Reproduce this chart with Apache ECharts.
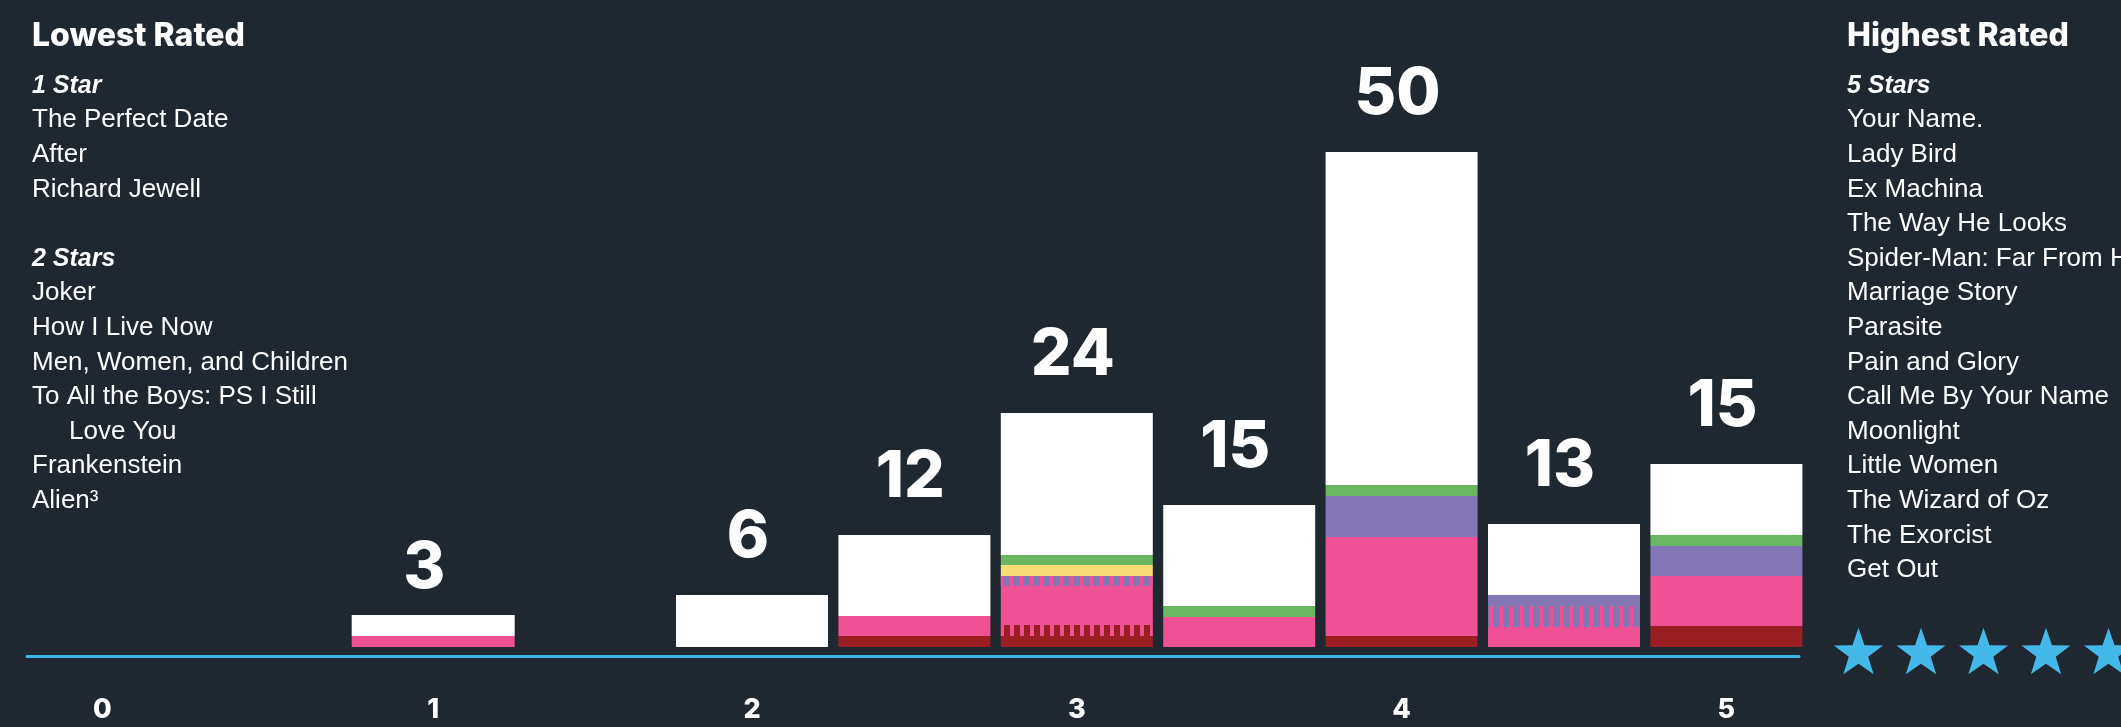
<!DOCTYPE html>
<html><head><meta charset="utf-8">
<script src="https://cdn.jsdelivr.net/npm/echarts@6/dist/echarts.min.js"></script>
<style>html,body{margin:0;padding:0;background:#1f2730;} #c{width:2121px;height:727px;}</style>
</head><body><div id="c"></div>
<script>
// ---- data ----
const categories = ['0', '0.5', '1', '1.5', '2', '2.5', '3', '3.5', '4', '4.5', '5'];
const tickLabels = ['0', '1', '2', '3', '4', '5'];
const ratings = [1, 2, 2.5, 3, 3.5, 4, 4.5, 5];
const counts = [3, 6, 12, 24, 15, 50, 13, 15];
// stacked segments, bottom to top (heights)
const darkRed        = [0,   0,   1.1, 1.1,  0,    1.1,  0,   2.1];
const darkRedStriped = [0,   0,   0,   1.1,  0,    0,    0,   0];
const pink           = [1.1, 0,   2.0, 3.9,  3.0,  9.9,  2.0, 5.0];
const purpleStriped  = [0,   0,   0,   1.0,  0,    0,    2.1, 0];
const purple         = [0,   0,   0,   0,    0,    4.1,  1.1, 3.0];
const yellow         = [0,   0,   0,   1.1,  0,    0,    0,   0];
const green          = [0,   0,   0,   1.0,  1.1,  1.1,  0,   1.1];
const white          = [2.1, 5.2, 8.1, 14.2, 10.1, 33.3, 7.1, 7.1];

const lowestTitle = 'Lowest Rated';
const highestTitle = 'Highest Rated';
const oneStarLabel = '1 Star';
const twoStarLabel = '2 Stars';
const fiveStarLabel = '5 Stars';
const oneStar = ['The Perfect Date', 'After', 'Richard Jewell'];
const twoStars = ['Joker', 'How I Live Now', 'Men, Women, and Children', 'To All the Boys: PS I Still Love You', 'Frankenstein', 'Alien³'];
const fiveStars = ['Your Name.', 'Lady Bird', 'Ex Machina', 'The Way He Looks', 'Spider-Man: Far From Home', 'Marriage Story', 'Parasite', 'Pain and Glory', 'Call Me By Your Name', 'Moonlight', 'Little Women', 'The Wizard of Oz', 'The Exorcist', 'Get Out'];

// ---- styles ----
const C = {
  bg: '#1f2730', white: '#ffffff', green: '#6ab663', yellow: '#fbdb75',
  purple: '#8276b4', pink: '#ef5195', darkRed: '#9b1e22', blue: '#3fb5e6'
};
const SOLO = 1; // the 1-star bar is drawn a little wider, on its own axis

function onCats(arr, solo) {
  return categories.map(c => {
    const i = ratings.indexOf(+c);
    if (i < 0) return '-';
    if ((ratings[i] === SOLO) !== !!solo) return '-';
    return arr[i];
  });
}
const countOfCat = idx => counts[ratings.indexOf(+categories[idx])];

const stripe = (w, gap) => ({ symbol: 'rect', symbolSize: 1, color: C.pink, dashArrayX: [w, gap], dashArrayY: [40, 0], rotation: 0 });
const valueLabel = (distance, dx) => ({
  show: true, position: 'top', distance, offset: [dx, 0],
  formatter: p => String(countOfCat(p.dataIndex)),
  color: '#ffffff', fontFamily: 'Inter', fontWeight: 800, fontSize: 64
});

function seg(name, arr, color, decal, solo) {
  return {
    name: name + (solo ? '-solo' : ''), type: 'bar', stack: solo ? 'solo' : 'main',
    barWidth: solo ? 163 : 152, silent: true,
    xAxisIndex: solo ? 1 : 0, yAxisIndex: solo ? 1 : 0,
    data: onCats(arr, solo),
    itemStyle: decal ? { color, decal } : { color }
  };
}
const layers = [
  ['darkRed', darkRed, C.darkRed, null],
  ['darkRedStriped', darkRedStriped, C.darkRed, stripe(4, 6)],
  ['pink', pink, C.pink, null],
  ['purpleStriped', purpleStriped, C.purple, stripe(3, 7)],
  ['purple', purple, C.purple, null],
  ['yellow', yellow, C.yellow, null],
  ['green', green, C.green, null],
  ['white', white, C.white, null]
];
const series = [];
[false, true].forEach(solo => {
  layers.forEach(([n, a, c, d]) => {
    const s = seg(n, a, c, d, solo);
    if (n === 'white') s.label = solo ? valueLabel(14, -9) : valueLabel(25, -4);
    series.push(s);
  });
});

// ---- text blocks ----
function wrap(t, maxChars) {
  const words = t.split(' '); const out = []; let cur = '';
  words.forEach(w => {
    const next = cur ? cur + ' ' + w : w;
    if (next.length > maxChars && cur) { out.push(cur); cur = w; } else cur = next;
  });
  if (cur) out.push(cur);
  return out;
}
const listFont = '26px "Liberation Sans", Arial, sans-serif';
const headFont = 'italic bold 25px "Liberation Sans", Arial, sans-serif';
const graphics = [];
function block(x, baseline0, step, lines) {
  lines.forEach((ln, i) => {
    const fs = ln.head ? 25 : 26;
    graphics.push({
      type: 'text', x: x + (ln.indent || 0), y: baseline0 + i * step - 0.35 * fs + 2, silent: true,
      style: { text: ln.t, font: ln.head ? headFont : listFont, fill: '#ffffff', verticalAlign: 'middle', align: 'left' }
    });
  });
}
const leftLines = [{ t: oneStarLabel, head: true }];
oneStar.forEach(t => leftLines.push({ t }));
leftLines.push({ t: '' });
leftLines.push({ t: twoStarLabel, head: true });
twoStars.forEach(t => wrap(t, 28).forEach((p, k) => leftLines.push({ t: p, indent: k ? 37 : 0 })));
const rightLines = [{ t: fiveStarLabel, head: true }];
fiveStars.forEach(t => rightLines.push({ t }));
block(32, 92.7, 34.6, leftLines);
block(1847, 92.7, 34.6, rightLines);

const titleFont = '800 32px Inter, sans-serif';
graphics.push({ type: 'text', x: 32, y: 48 - 0.36 * 32, silent: true,
  style: { text: lowestTitle, font: titleFont, fill: '#ffffff', verticalAlign: 'middle' } });
graphics.push({ type: 'text', x: 1847, y: 48 - 0.36 * 32, silent: true,
  style: { text: highestTitle, font: titleFont, fill: '#ffffff', verticalAlign: 'middle' } });

// decorative stars
function starPts(cx, cy, R, r) {
  const pts = [];
  for (let k = 0; k < 10; k++) {
    const a = -Math.PI / 2 + k * Math.PI / 5;
    const rad = k % 2 ? r : R;
    pts.push([cx + rad * Math.cos(a), cy + rad * Math.sin(a)]);
  }
  return pts;
}
for (let s = 0; s < 5; s++) {
  graphics.push({ type: 'polygon', silent: true,
    shape: { points: starPts(1858.5 + s * 62.5, 653.5, 25.8, 10.2) },
    style: { fill: '#44b9e9' } });
}

const BAND = 162.4;
const plotW = BAND * categories.length;
const axisLabelStyle = { margin: 40, color: '#ffffff', fontFamily: 'Inter, sans-serif', fontWeight: 800, fontSize: 27 };
const yHidden = gi => ({ type: 'value', gridIndex: gi, min: -0.9, max: 55, show: false, splitLine: { show: false } });

const chart = echarts.init(document.getElementById('c'), null, { renderer: 'canvas' });
chart.setOption({
  backgroundColor: C.bg,
  animation: false,
  grid: [
    { left: 21.2, width: plotW, top: 97, bottom: 71 },
    { left: 27.2, width: plotW, top: 97, bottom: 71 },
    { left: 27, right: 322, top: 97, bottom: 71 }
  ],
  xAxis: [
    {
      type: 'category', data: categories, gridIndex: 0,
      axisLine: { show: false }, axisTick: { show: false }, splitLine: { show: false },
      axisLabel: Object.assign({ interval: 0, formatter: v => (tickLabels.includes(v) && +v !== SOLO) ? v : '' }, axisLabelStyle)
    },
    {
      type: 'category', data: categories, gridIndex: 1,
      axisLine: { show: false }, axisTick: { show: false }, splitLine: { show: false },
      axisLabel: Object.assign({ interval: 0, formatter: v => (+v === SOLO && tickLabels.includes(v)) ? v : '' }, axisLabelStyle)
    },
    {
      type: 'value', gridIndex: 2, min: 0, max: 1,
      axisLine: { show: true, onZero: false, lineStyle: { color: C.blue, width: 3 } },
      axisTick: { show: false }, axisLabel: { show: false }, splitLine: { show: false }
    }
  ],
  yAxis: [yHidden(0), yHidden(1), yHidden(2)],
  series,
  graphic: graphics
});
</script></body></html>
